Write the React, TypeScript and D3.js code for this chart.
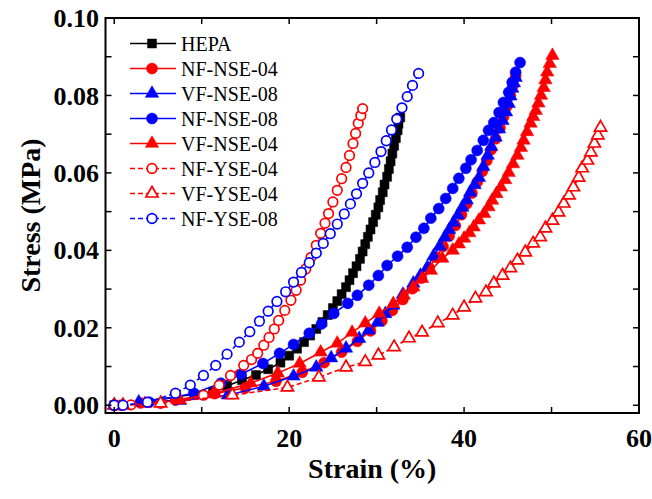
import React from "react";
import * as d3 from "d3";

const W = 652;
const H = 499;

const xTicks = [0, 20, 40, 60];
const xMinor = [10, 30, 50];
const yTicks = [0, 0.02, 0.04, 0.06, 0.08, 0.1];
const yMinor = [0.01, 0.03, 0.05, 0.07, 0.09];

const HEPA: [number, number][] = [
  [0, 0], [11.3, 0.0035], [12.9, 0.005], [14.6, 0.0065], [16.2, 0.0078], [17.6, 0.0093],
  [19.0, 0.011], [20.0, 0.0128], [20.9, 0.0146], [21.7, 0.0163], [22.4, 0.018], [23.1, 0.0197],
  [23.8, 0.0215], [24.4, 0.0233], [25.0, 0.0251], [25.5, 0.0269], [26.0, 0.0287], [26.5, 0.0305],
  [26.9, 0.0323], [27.3, 0.0341], [27.7, 0.0359], [28.1, 0.0378], [28.4, 0.0397], [28.7, 0.0416],
  [29.0, 0.0435], [29.3, 0.0454], [29.6, 0.0473], [29.9, 0.0492], [30.2, 0.0511], [30.4, 0.053],
  [30.7, 0.055], [30.9, 0.057], [31.2, 0.059], [31.4, 0.061], [31.6, 0.063], [31.8, 0.065],
  [32.0, 0.067], [32.2, 0.069], [32.4, 0.071], [32.5, 0.0727], [32.7, 0.0743],
];

const NF_NSE_04: [number, number][] = [
  [0, 0], [3, 0.0006], [7, 0.0013], [11.5, 0.003], [15, 0.0045], [18.5, 0.0062], [21.5, 0.0085],
  [24, 0.011], [26, 0.0137], [27.8, 0.0165], [29.3, 0.0192], [30.6, 0.0218], [31.8, 0.0245],
  [33, 0.0273], [34.1, 0.0301], [35.1, 0.0328], [36, 0.0355], [36.8, 0.0382], [37.6, 0.041],
  [38.3, 0.0437], [39, 0.0464], [39.7, 0.0492], [40.3, 0.052], [40.9, 0.0548], [41.5, 0.0576],
  [42.1, 0.0604], [42.6, 0.0632], [43.1, 0.066], [43.6, 0.0688], [44.1, 0.0716], [44.5, 0.0744],
  [44.9, 0.0772], [45.3, 0.08], [45.6, 0.0826], [45.9, 0.085],
];

const VF_NSE_08: [number, number][] = [
  [0, 0], [2.8, 0.0008], [7.5, 0.0012], [13, 0.0026], [17.1, 0.0049], [20.5, 0.0075],
  [23.1, 0.0098], [24.8, 0.0122], [26.5, 0.0147], [28, 0.0172], [29.1, 0.0194], [30.1, 0.0214],
  [31.0, 0.0236], [31.9, 0.0258], [33.0, 0.0286], [34.2, 0.0315], [35.0, 0.0335], [35.8, 0.0356],
  [36.5, 0.0385], [37.2, 0.041], [37.8, 0.0434], [38.3, 0.0453], [38.8, 0.0472], [39.3, 0.0491],
  [39.8, 0.0511], [40.3, 0.053], [40.7, 0.055], [41.2, 0.0569], [41.7, 0.0588], [42.2, 0.0616],
  [42.7, 0.0645], [43.1, 0.0668], [43.6, 0.0692], [44.0, 0.0713], [44.4, 0.0735], [44.8, 0.0757],
  [45.1, 0.0779], [45.3, 0.0798], [45.5, 0.0818], [45.7, 0.0832], [45.9, 0.0846],
];

const NF_NSE_08: [number, number][] = [
  [0, 0], [4, 0.0008], [9.1, 0.0031], [12.2, 0.0057], [14.5, 0.008], [17, 0.0108], [18.9, 0.0134],
  [20.5, 0.0157], [22.3, 0.0186], [23.7, 0.021], [25.1, 0.0237], [26.7, 0.0263], [27.8, 0.0284],
  [29.1, 0.031], [30.2, 0.0335], [31.2, 0.0361], [32.4, 0.0385], [33.5, 0.0408], [34.5, 0.0434],
  [35.4, 0.0457], [36.2, 0.0483], [37.1, 0.0508], [37.9, 0.0534], [38.7, 0.056], [39.4, 0.0586],
  [40.2, 0.0612], [40.8, 0.0634], [41.5, 0.0658], [42.2, 0.0684], [42.8, 0.071], [43.4, 0.073],
  [44, 0.0756], [44.5, 0.0782], [45.1, 0.0808], [45.5, 0.0834], [45.9, 0.086], [46.4, 0.0885],
];

const VF_NSE_04: [number, number][] = [
  [0, 0], [3.5, 0.0004], [7.5, 0.0013], [11.4, 0.003], [15.6, 0.0057], [18.7, 0.0083],
  [21.2, 0.0108], [23.6, 0.0137], [25.5, 0.016], [27.2, 0.0188], [28.7, 0.0212], [30.3, 0.0237],
  [31.9, 0.0262], [33.1, 0.0284], [34.2, 0.0305], [35.2, 0.0327], [36.2, 0.0348], [37.5, 0.0379],
  [38.7, 0.04], [39.4, 0.0416], [40.0, 0.0431], [40.6, 0.0445], [41.1, 0.046], [41.7, 0.0478],
  [42.3, 0.0495], [42.8, 0.0512], [43.2, 0.0529], [43.7, 0.0546], [44.2, 0.0563], [44.7, 0.0582],
  [45.1, 0.0601], [45.6, 0.0623], [46.1, 0.0645], [46.5, 0.0665], [46.8, 0.0684], [47.2, 0.0706],
  [47.6, 0.0728], [47.9, 0.0745], [48.2, 0.0761], [48.5, 0.078], [48.8, 0.08], [49.1, 0.082],
  [49.3, 0.084], [49.5, 0.086], [49.8, 0.0882], [50.1, 0.0903],
];

const NF_YSE_04: [number, number][] = [
  [0, 0], [0.7, 0], [1.9, 0.0001], [5.3, 0.0005], [10.2, 0.0026], [12.0, 0.0052], [13.3, 0.0077],
  [14.8, 0.0103], [15.7, 0.0118], [16.4, 0.0134], [17.1, 0.0155], [17.7, 0.0175], [18.3, 0.0197],
  [18.8, 0.0219], [19.5, 0.0245], [20.2, 0.0271], [20.8, 0.0297], [21.3, 0.0323], [21.9, 0.0352],
  [22.5, 0.0382], [23.1, 0.0413], [23.6, 0.0444], [24.1, 0.047], [24.5, 0.0495], [25.0, 0.0525],
  [25.5, 0.0555], [26.0, 0.0585], [26.5, 0.0614], [26.9, 0.0645], [27.3, 0.0676], [27.6, 0.0702],
  [27.9, 0.0728], [28.2, 0.0748], [28.4, 0.0766],
];

const VF_YSE_04: [number, number][] = [
  [0, 0], [1, 0], [5.3, 0.0005], [13.5, 0.0026], [19.8, 0.0046], [23.4, 0.0072], [26.5, 0.0098],
  [28.7, 0.0112], [30.2, 0.0129], [32, 0.015], [33.7, 0.0173], [35.2, 0.0188], [37, 0.0212],
  [38.7, 0.0232], [40, 0.0253], [41.3, 0.0276], [42.5, 0.0292], [43.4, 0.0315], [44.4, 0.0335],
  [45.3, 0.0354], [46.1, 0.0374], [47, 0.0395], [47.9, 0.0418], [48.7, 0.0434], [49.3, 0.0457],
  [50.1, 0.0477], [50.8, 0.0498], [51.4, 0.0521], [52, 0.0542], [52.5, 0.0563], [53.1, 0.0588],
  [53.5, 0.0612], [54.1, 0.0632], [54.5, 0.0653], [54.9, 0.0676], [55.3, 0.0697], [55.6, 0.0717],
];

const NF_YSE_08: [number, number][] = [
  [0, 0], [1, 0], [3.8, 0.0008], [7, 0.0031], [8.7, 0.0052], [10.2, 0.0077], [11.6, 0.0103],
  [12.9, 0.0132], [14.3, 0.0163], [15.5, 0.019], [16.6, 0.0217], [17.6, 0.0243], [18.6, 0.0268],
  [19.6, 0.0293], [20.5, 0.0318], [21.4, 0.0343], [22.3, 0.0368], [23.1, 0.0393], [23.9, 0.0418],
  [24.7, 0.0443], [25.5, 0.0468], [26.3, 0.0494], [27.0, 0.052], [27.7, 0.0546], [28.4, 0.0573],
  [29.1, 0.06], [29.8, 0.0627], [30.5, 0.0655], [31.1, 0.0683], [31.7, 0.0711], [32.3, 0.0739],
  [32.9, 0.0768], [33.5, 0.0797], [34.1, 0.0826], [34.8, 0.0857],
];

const seriesNames = ["HEPA", "NF-NSE-04", "VF-NSE-08", "NF-NSE-08", "VF-NSE-04", "NF-YSE-04", "VF-YSE-04", "NF-YSE-08"];
const seriesData = [HEPA, NF_NSE_04, VF_NSE_08, NF_NSE_08, VF_NSE_04, NF_YSE_04, VF_YSE_04, NF_YSE_08];
const seriesColors = ["#000000", "#ff0000", "#0000ff", "#0000ff", "#ff0000", "#ff0000", "#ff0000", "#0000ff"];
const seriesShapes = ["square", "circle", "triangle", "circle", "triangle", "circle", "triangle", "circle"];
const seriesFilled = [true, true, true, true, true, false, false, false];
const seriesDashed = [false, false, false, false, false, true, true, true];

const L = 105.5, R = 639, T = 18, B = 413;

function symbolFor(shape: string, filled: boolean) {
  if (shape === "square") return d3.symbol(d3.symbolSquare, 81)();
  if (shape === "circle") return d3.symbol(d3.symbolCircle, filled ? 95 : 72)();
  return d3.symbol(d3.symbolTriangle, filled ? 78 : 64)();
}

export default function App() {
  const x = d3.scaleLinear().domain([-1, 60]).range([L, R]);
  const y = d3.scaleLinear().domain([-0.002, 0.1]).range([B, T]);
  const line = d3.line<[number, number]>().x((d) => x(d[0])).y((d) => y(d[1]));
  const serif = "'Liberation Serif', 'Times New Roman', serif";
  const tickLen = 6;

  return (
    <svg width={W} height={H} style={{ position: "absolute", left: 0, top: 0, background: "#fff" }}>
      <rect x={0} y={0} width={W} height={H} fill="#fff" />
      <g>
        {seriesData.map((data, i) => {
          const color = seriesColors[i];
          const path = symbolFor(seriesShapes[i], seriesFilled[i]) as string;
          return (
            <g key={seriesNames[i]}>
              <path d={line(data) as string} fill="none" stroke={color} strokeWidth={1.6}
                strokeDasharray={seriesDashed[i] ? "5,3" : undefined} />
              {data.map((d, j) => (
                <path key={j} d={path} transform={`translate(${x(d[0])},${y(d[1])})`}
                  fill={seriesFilled[i] ? color : "#fff"} stroke={color}
                  strokeWidth={seriesFilled[i] ? 0.5 : 1.7} />
              ))}
            </g>
          );
        })}
      </g>
      <rect x={L} y={T} width={R - L} height={B - T} fill="none" stroke="#000" strokeWidth={2} />
      {[...xTicks, ...xMinor].map((t) => (
        <g key={"xt" + t}>
          <line x1={x(t)} x2={x(t)} y1={B} y2={B - tickLen} stroke="#000" strokeWidth={1.5} />
          <line x1={x(t)} x2={x(t)} y1={T} y2={T + tickLen} stroke="#000" strokeWidth={1.5} />
        </g>
      ))}
      {[...yTicks, ...yMinor].map((t) => (
        <g key={"yt" + t}>
          <line x1={L} x2={L + tickLen} y1={y(t)} y2={y(t)} stroke="#000" strokeWidth={1.5} />
          <line x1={R} x2={R - tickLen} y1={y(t)} y2={y(t)} stroke="#000" strokeWidth={1.5} />
        </g>
      ))}
      {xTicks.map((t) => (
        <text key={"xl" + t} x={x(t)} y={447} textAnchor="middle" fontFamily={serif} fontWeight="bold" fontSize={26}>
          {t}
        </text>
      ))}
      {yTicks.map((t) => (
        <text key={"yl" + t} x={99} y={y(t)} dy="0.35em" textAnchor="end" fontFamily={serif} fontWeight="bold" fontSize={26}>
          {d3.format(".2f")(t)}
        </text>
      ))}
      <text x={(L + R) / 2} y={478} textAnchor="middle" fontFamily={serif} fontWeight="bold" fontSize={28}>
        Strain (%)
      </text>
      <text transform={`translate(40,${(T + B) / 2}) rotate(-90)`} textAnchor="middle" fontFamily={serif} fontWeight="bold" fontSize={28}>
        Stress (MPa)
      </text>
      {seriesNames.map((name, i) => {
        const cy = 43.5 + i * 25;
        const color = seriesColors[i];
        const path = symbolFor(seriesShapes[i], seriesFilled[i]) as string;
        return (
          <g key={"lg" + name}>
            <line x1={130} x2={176} y1={cy} y2={cy} stroke={color} strokeWidth={1.6}
              strokeDasharray={seriesDashed[i] ? "5,3" : undefined} />
            <path d={path} transform={`translate(152,${cy})`} fill={seriesFilled[i] ? color : "#fff"}
              stroke={color} strokeWidth={seriesFilled[i] ? 0.5 : 1.7} />
            <text x={181} y={cy} dy="0.35em" fontFamily={serif} fontSize={20}>
              {name}
            </text>
          </g>
        );
      })}
    </svg>
  );
}
